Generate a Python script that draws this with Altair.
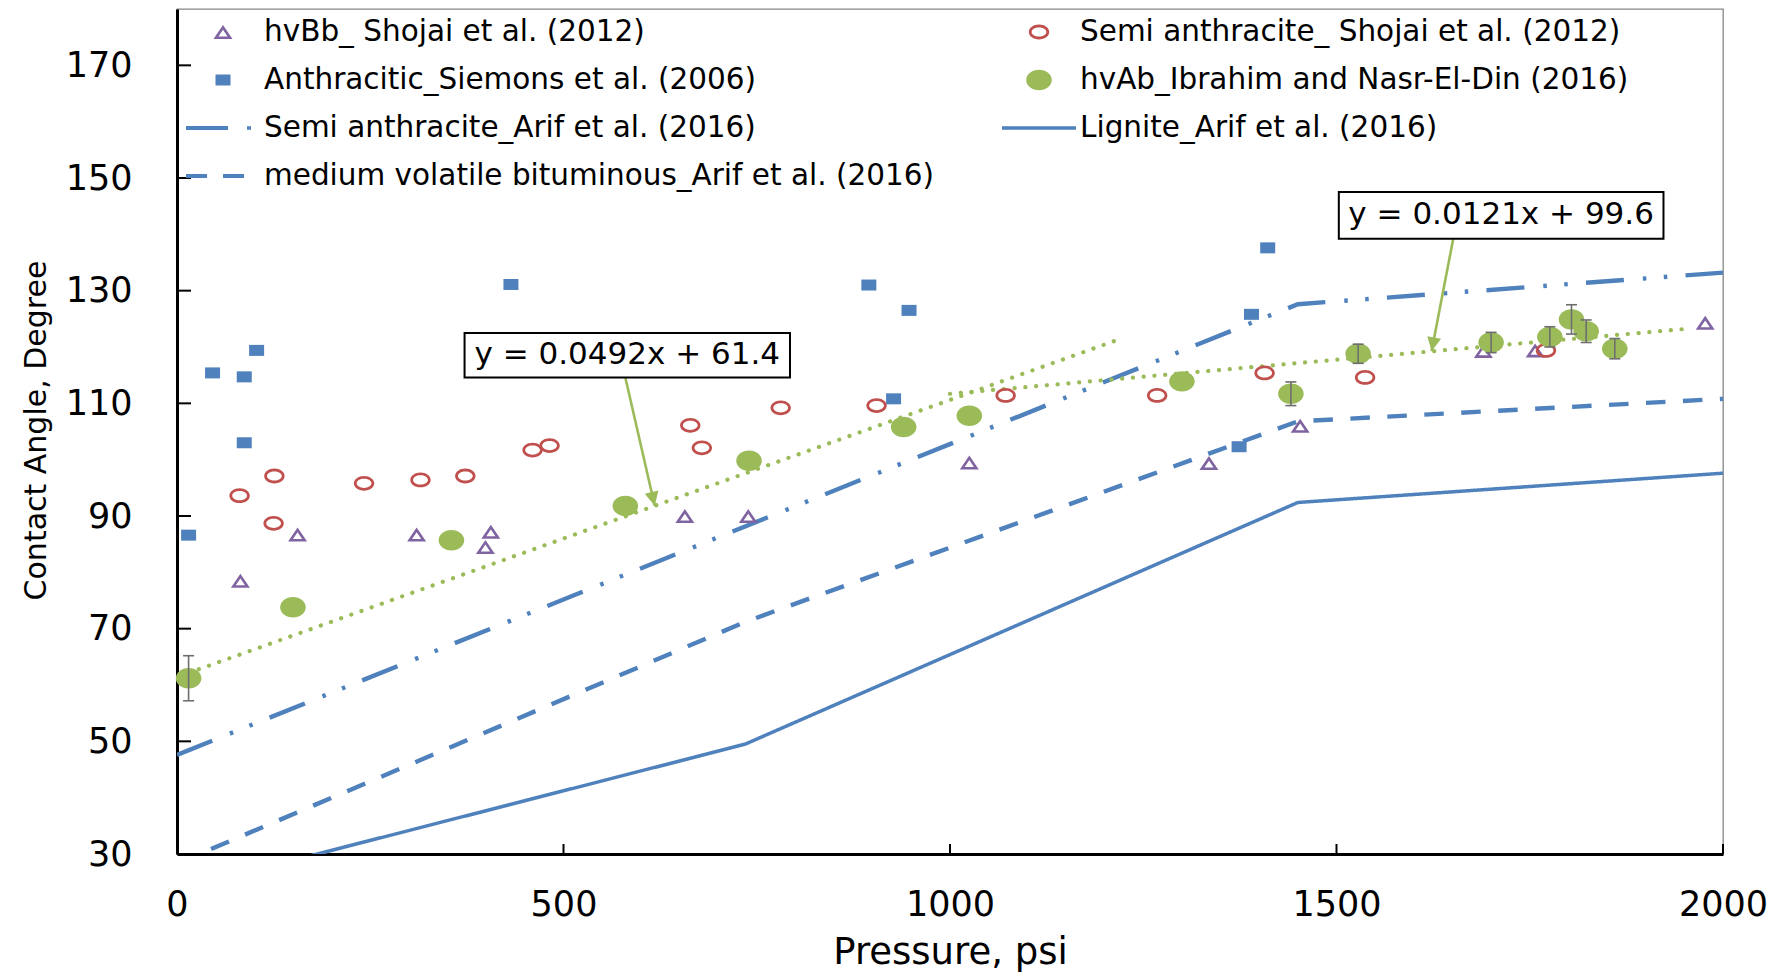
import math
import altair as alt
import pandas as pd

# ---------------------------------------------------------------- data
SER_HVBB = "hvBb_ Shojai et al. (2012)"
SER_SEMI_SH = "Semi anthracite_ Shojai et al. (2012)"
SER_ANTH = "Anthracitic_Siemons et al. (2006)"
SER_HVAB = "hvAb_Ibrahim and Nasr-El-Din (2016)"
SER_SEMI_AR = "Semi anthracite_Arif et al. (2016)"
SER_LIG = "Lignite_Arif et al. (2016)"
SER_MVB = "medium volatile bituminous_Arif et al. (2016)"

# hvBb coal (open triangles)
hvbb_p = [82, 156, 310, 399, 406, 657, 739, 1025, 1335, 1453, 1690, 1757, 1977]
hvbb_a = [78.5, 86.7, 86.7, 84.5, 87.2, 90.0, 90.0, 99.5, 99.4, 106.0, 119.3, 119.4, 124.3]

# semi anthracite, Shojai (open circles)
semi_sh_p = [81, 126, 125, 242, 315, 373, 460, 482, 664, 679, 781, 905, 1072, 1268, 1407, 1537, 1771]
semi_sh_a = [93.6, 97.1, 88.7, 95.8, 96.4, 97.1, 101.7, 102.5, 106.1, 102.1, 109.2, 109.6,
             111.4, 111.4, 115.4, 114.6, 119.4]

# anthracitic coal, Siemons (filled squares)
anth_p = [15, 46, 87, 87, 103, 432, 895, 927, 947, 1374, 1390, 1411]
anth_a = [86.6, 115.4, 114.7, 103.0, 119.4, 131.1, 131.0, 110.8, 126.5, 102.3, 125.8, 137.6]

# hvAb coal, Ibrahim and Nasr-El-Din (filled circles, with error bars)
hvab_p = [15, 150, 355, 580, 740, 940, 1025, 1300, 1441, 1528, 1700, 1776, 1804, 1823, 1860]
hvab_a = [61.2, 73.8, 85.7, 91.8, 99.8, 105.8, 107.8, 113.9, 111.7, 118.8, 120.8, 121.8,
          124.9, 122.8, 119.7]
hvab_err = [4.0, 0, 0, 0, 0, 0, 0, 0, 2.1, 1.7, 1.8, 1.8, 2.6, 2.0, 1.8]

# Arif et al. (2016) curves
arif_semi_p = [0, 1450, 2000]
arif_semi_a = [47.6, 127.6, 133.2]
arif_lig_p = [0, 735, 1450, 2000]
arif_lig_a = [23.6, 49.5, 92.4, 97.6]
arif_mvb_p = [0, 735, 1450, 2000]
arif_mvb_a = [28.3, 71.2, 106.8, 110.8]

# linear fits to the hvAb data: slope, intercept, first and last pressure
fit_low = (0.0492, 61.4, 15, 1215)
fit_high = (0.0121, 99.6, 1000, 1955)

X_TICKS = [0, 500, 1000, 1500, 2000]
Y_TICKS = [30, 50, 70, 90, 110, 130, 150, 170]

# ---------------------------------------------------------------- styling
W, H = 1546, 845
X_DOM, Y_DOM = [0, 2000], [30, 180]
FONT = "DejaVu Sans"
BLUE, RED, GREEN, PURPLE = "#4F81BD", "#C0504D", "#9BBB59", "#8064A2"
ERR_GRAY = "#6E6E6E"

R = 37.0            # half width of every symbol (px); symbol size = (2R)^2
SYM_SIZE = int((2 * R) ** 2)


def P(x, y):
    return f"{x / R:.4f} {y / R:.4f}"


def rect_path(x0, x1, y0, y1):
    return f"M {P(x0, y0)} L {P(x1, y0)} L {P(x1, y1)} L {P(x0, y1)} Z"


def ellipse_path(rx, ry, reverse=False):
    k = 0.5523
    pts = [(rx, 0), (0, ry), (-rx, 0), (0, -ry)]
    if reverse:
        pts = [pts[0]] + pts[:0:-1]
    d = f"M {P(*pts[0])}"
    for i in range(4):
        p0, p1 = pts[i], pts[(i + 1) % 4]
        c1 = (p0[0] + k * p1[0], p0[1] + k * p1[1])
        c2 = (p1[0] + k * p0[0], p1[1] + k * p0[1])
        d += f" C {P(*c1)} {P(*c2)} {P(*p1)}"
    return d + " Z"


def triangle_ring(w, h, t):
    A, B, C = (0, -h / 2), (w / 2, h / 2), (-w / 2, h / 2)
    dist = lambda u, v: math.hypot(u[0] - v[0], u[1] - v[1])
    a, b, c = dist(B, C), dist(C, A), dist(A, B)
    per = a + b + c
    ic = ((a * A[0] + b * B[0] + c * C[0]) / per, (a * A[1] + b * B[1] + c * C[1]) / per)
    rho = (w * h / 2) / (per / 2)
    s = (rho - t) / rho
    inner = [(ic[0] + s * (v[0] - ic[0]), ic[1] + s * (v[1] - ic[1])) for v in (A, C, B)]
    d = f"M {P(*A)} L {P(*B)} L {P(*C)} Z "
    d += f"M {P(*inner[0])} L {P(*inner[1])} L {P(*inner[2])} Z"
    return d


TRI = triangle_ring(19, 14, 2.6)
RING = ellipse_path(10.2, 7.4) + " " + ellipse_path(7.4, 4.6, reverse=True)
SQUARE = rect_path(-7.5, 7.5, -5.5, 5.5)
DISC = ellipse_path(12.8, 10.2)
# line-style keys for the legend
KEY_DASHDOT = rect_path(-37, 5, -2.1, 2.1) + " " + rect_path(24, 28, -1.8, 1.8)
KEY_SOLID = rect_path(-37, 37, -1.75, 1.75)
KEY_DASH = rect_path(-37, -16, -2.1, 2.1) + " " + rect_path(0, 21, -2.1, 2.1)

# legend entries are placed column by column
LEGEND_ORDER = [SER_HVBB, SER_ANTH, SER_SEMI_AR, SER_MVB, SER_SEMI_SH, SER_HVAB, SER_LIG]
STYLE = {
    SER_HVBB: (TRI, PURPLE),
    SER_ANTH: (SQUARE, BLUE),
    SER_SEMI_AR: (KEY_DASHDOT, BLUE),
    SER_MVB: (KEY_DASH, BLUE),
    SER_SEMI_SH: (RING, RED),
    SER_HVAB: (DISC, GREEN),
    SER_LIG: (KEY_SOLID, BLUE),
}
SHAPES = [STYLE[s][0] for s in LEGEND_ORDER]
FILLS = [STYLE[s][1] for s in LEGEND_ORDER]

xs = alt.Scale(domain=X_DOM, nice=False, zero=False)
ys = alt.Scale(domain=Y_DOM, nice=False, zero=False)

x_axis = alt.Axis(
    values=X_TICKS, format="d", title="Pressure, psi", grid=False, ticks=False, tickSize=0,
    labelFlush=False, labelOverlap=False, labelFont=FONT, labelFontSize=35,
    labelColor="black", labelPadding=61, labelBaseline="alphabetic",
    domainColor="black", domainWidth=3,
    titleFont=FONT, titleFontSize=37, titleFontWeight="normal", titleColor="black",
    titleBaseline="alphabetic", titleAlign="center", titleX=W / 2, titleY=109,
)
y_axis = alt.Axis(
    values=Y_TICKS, format="d", title="Contact Angle, Degree", grid=False, ticks=False,
    tickSize=0, labelOverlap=False, labelFont=FONT, labelFontSize=35, labelColor="black",
    labelPadding=45, domainColor="black", domainWidth=3,
    titleFont=FONT, titleFontSize=30, titleFontWeight="normal", titleColor="black",
    titleAngle=270, titleBaseline="alphabetic", titleAlign="center",
    titleX=-132, titleY=421,
)

LEG = alt.Legend(
    title=None, orient="none", legendX=9, legendY=5, columns=2, columnPadding=67,
    rowPadding=12, clipHeight=36, symbolSize=SYM_SIZE, symbolStrokeWidth=0,
    symbolOffset=0, labelOffset=4, labelFont=FONT, labelFontSize=29.5,
    labelColor="black", labelLimit=900, padding=0,
)

X = alt.X("p:Q", scale=xs, axis=x_axis)
Y = alt.Y("a:Q", scale=ys, axis=y_axis)

# ---------------------------------------------------------------- tables
pts = pd.concat([
    pd.DataFrame({"p": hvbb_p, "a": hvbb_a, "series": SER_HVBB}),
    pd.DataFrame({"p": anth_p, "a": anth_a, "series": SER_ANTH}),
    pd.DataFrame({"p": semi_sh_p, "a": semi_sh_a, "series": SER_SEMI_SH}),
    pd.DataFrame({"p": hvab_p, "a": hvab_a, "series": SER_HVAB}),
], ignore_index=True)

err = pd.DataFrame({"p": hvab_p, "mid": hvab_a, "e": hvab_err})
err = err[err["e"] > 0]
err_bars = pd.DataFrame({"p": err["p"], "a": err["mid"] - err["e"], "a2": err["mid"] + err["e"]})
err_caps = pd.concat([
    pd.DataFrame({"p": err["p"], "a": err["mid"] - err["e"]}),
    pd.DataFrame({"p": err["p"], "a": err["mid"] + err["e"]}),
], ignore_index=True)


def fit_table(fit, name):
    m, b, p0, p1 = fit
    return pd.DataFrame({"p": [p0, p1], "a": [m * p0 + b, m * p1 + b], "fit": name})


fits = pd.concat([fit_table(fit_low, "low"), fit_table(fit_high, "high")], ignore_index=True)

# equation call-outs: box extent, arrow start and the fitted pressure it points at
callouts = [
    {"label": "y = 0.0492x + 61.4", "fit": fit_low, "box": (372, 793, 114.6, 122.5),
     "from": (580, 114.6), "at": 618},
    {"label": "y = 0.0121x + 99.6", "fit": fit_high, "box": (1503, 1923, 139.2, 147.5),
     "from": (1651, 139.2), "at": 1623},
]
px_x = W / (X_DOM[1] - X_DOM[0])
px_y = H / (Y_DOM[1] - Y_DOM[0])
box_rows, text_rows, arrow_rows, head_rows = [], [], [], []
for c in callouts:
    x0, x1, y0, y1 = c["box"]
    box_rows.append({"p": x0, "p2": x1, "a": y0, "a2": y1})
    text_rows.append({"p": (x0 + x1) / 2, "a": (y0 + y1) / 2, "label": c["label"]})
    m, b = c["fit"][0], c["fit"][1]
    tip_p, tip_a = c["at"], m * c["at"] + b
    sp, sa = c["from"]
    arrow_rows.append({"p": sp, "a": sa, "p2": tip_p, "a2": tip_a})
    dx = (tip_p - sp) * px_x
    dy = (sa - tip_a) * px_y
    ang = math.degrees(math.atan2(-dx, dy)) % 360
    head_rows.append({"p": tip_p, "a": tip_a, "ang": ang})

# ---------------------------------------------------------------- layers
def arif_line(ps, as_, dash, width):
    df = pd.DataFrame({"p": ps, "a": as_})
    return alt.Chart(df).mark_line(
        color=BLUE, strokeWidth=width, strokeDash=dash, clip=True
    ).encode(x=X, y=Y)


semi_line = arif_line(arif_semi_p, arif_semi_a, [38, 19, 3.5, 17.5, 3.5, 18.3], 4.4)
mvb_line = arif_line(arif_mvb_p, arif_mvb_a, [19.5, 17.5], 4.4)
lig_line = arif_line(arif_lig_p, arif_lig_a, [1, 0], 3.5)

fit_lines = alt.Chart(fits).mark_line(
    color=GREEN, strokeWidth=4.2, strokeDash=[0.1, 10.7], strokeCap="round"
).encode(x=X, y=Y, detail="fit:N")

arrows = alt.Chart(pd.DataFrame(arrow_rows)).mark_rule(
    color=GREEN, strokeWidth=2.6
).encode(x=X, y=Y, x2="p2:Q", y2="a2:Q")

heads = alt.Chart(pd.DataFrame(head_rows)).mark_point(
    shape="M 0 0 L -0.5 -1 L 0.5 -1 Z", size=784, filled=True, fill=GREEN,
    strokeWidth=0, opacity=1
).encode(x=X, y=Y, angle=alt.Angle("ang:Q", scale=None))

boxes = alt.Chart(pd.DataFrame(box_rows)).mark_rect(
    fill="white", stroke="black", strokeWidth=2
).encode(x=X, y=Y, x2="p2:Q", y2="a2:Q")

box_text = alt.Chart(pd.DataFrame(text_rows)).mark_text(
    font=FONT, fontSize=31, color="black", align="center", baseline="middle"
).encode(x=X, y=Y, text="label:N")

points = alt.Chart(pts).mark_point(
    filled=True, size=SYM_SIZE, strokeWidth=0, opacity=1
).encode(
    x=X, y=Y,
    shape=alt.Shape("series:N", scale=alt.Scale(domain=LEGEND_ORDER, range=SHAPES), legend=LEG),
    fill=alt.Fill("series:N", scale=alt.Scale(domain=LEGEND_ORDER, range=FILLS), legend=LEG),
)

bars = alt.Chart(err_bars).mark_rule(color=ERR_GRAY, strokeWidth=1.6).encode(
    x=X, y=Y, y2="a2:Q"
)
caps = alt.Chart(err_caps).mark_point(
    shape="M -1 0 L 1 0", size=121, filled=False, stroke=ERR_GRAY, strokeWidth=1.6, opacity=1
).encode(x=X, y=Y)

# tick marks drawn inside the plot frame
y_ticks = alt.Chart(pd.DataFrame({"a": Y_TICKS})).mark_rule(color="black", strokeWidth=2).encode(
    y=Y, x=alt.value(0), x2=alt.value(14)
)
x_ticks = alt.Chart(pd.DataFrame({"p": X_TICKS})).mark_rule(color="black", strokeWidth=2).encode(
    x=X, y=alt.value(H - 10), y2=alt.value(H)
)

chart = alt.layer(
    lig_line, mvb_line, semi_line, fit_lines, arrows, heads, boxes, box_text,
    points, bars, caps, y_ticks, x_ticks,
).properties(
    width=W, height=H,
    padding={"left": 177, "top": 9, "right": 65, "bottom": 121},
    autosize=alt.AutoSizeParams(type="none"),
).configure_view(
    stroke="#868686", strokeWidth=1.3
)

chart.save("out.html", embed_options={"renderer": "svg", "actions": False})
